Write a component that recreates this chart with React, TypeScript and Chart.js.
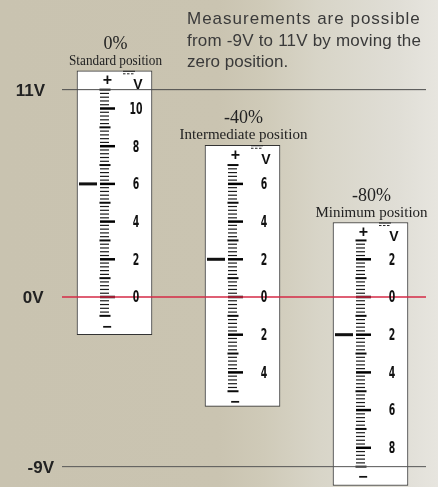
import React, { useEffect, useRef } from "react";
import { Chart, registerables } from "chart.js";

Chart.register(...registerables);

// ---------------- data ----------------
const LEVEL_VALUES = [11, 0, -9];
const LEVEL_LABELS = ["11V", "0V", "-9V"];
const POSITION_PERCENT = ["0%", "-40%", "-80%"];
const POSITION_NAME = ["Standard position", "Intermediate position", "Minimum position"];
const SCALE_MIN = [-1, -5, -9];
const SCALE_MAX = [11, 7, 3];
const BOX_MIN = [-2, -5.8, -10];
const BOX_MAX = [12, 8.05, 3.95];
const POINTER_VALUE = [6, 2, -2];
const SCALE_NUMBERS = [
  [10, 8, 6, 4, 2, 0],
  [6, 4, 2, 0, -2, -4],
  [2, 0, -2, -4, -6, -8],
];
const TICK_STEP = 0.2;
const NOTE_LINES = [
  "Measurements are possible",
  "from -9V to 11V by moving the",
  "zero position.",
];

// ---------------- layout ----------------
const W = 438;
const H = 487;
const Y_MIN = -10.08;
const Y_MAX = 15.756;
const BOX_LEFT = [77, 205, 333];
const BOX_WIDTH = 75;
const LINE_FROM = 62;
const LINE_TO = 426;
const LEVEL_LABEL_RIGHT = [45, 43.5, 54];
const LEVEL_COLORS = ["#4a4a4a", "#d42a46", "#555555"];
const LEVEL_WIDTHS = [1, 1.5, 1];
const NOTE_SPACING = [1, 0.2, 0];
const SANS = '"Liberation Sans", Arial, Helvetica, sans-serif';
const SERIF = '"Liberation Serif", "Times New Roman", serif';
const NARROW = '"Liberation Sans Narrow", "DejaVu Sans Condensed", "Arial Narrow", sans-serif';

type Kind = "minor" | "odd" | "major";
const TICK_STYLE: Record<Kind, { center: number; radius: number; width: number; color: string }> = {
  minor: { center: 27.5, radius: 4.5, width: 1.2, color: "#1a1a1a" },
  odd: { center: 28, radius: 5.5, width: 2, color: "#0a0a0a" },
  major: { center: 30.5, radius: 7.5, width: 2.5, color: "#000000" },
};

function tickPoints(kind: Kind) {
  const pts: { x: number; y: number }[] = [];
  for (let b = 0; b < SCALE_MIN.length; b++) {
    const n = Math.round((SCALE_MAX[b] - SCALE_MIN[b]) / TICK_STEP);
    for (let k = 0; k <= n; k++) {
      const v = Math.round((SCALE_MIN[b] + k * TICK_STEP) * 1000) / 1000;
      const isInt = Math.abs(v - Math.round(v)) < 1e-6;
      let kk: Kind = "minor";
      if (isInt) kk = Math.round(v) % 2 === 0 ? "major" : "odd";
      if (kk === kind) pts.push({ x: BOX_LEFT[b] + TICK_STYLE[kind].center, y: v });
    }
  }
  return pts;
}

const bgPlugin = {
  id: "bg",
  beforeDraw(chart: any) {
    const { ctx, width, height } = chart;
    const g = ctx.createLinearGradient(0, 0, width, 0);
    g.addColorStop(0, "#c9c3b0");
    g.addColorStop(0.5, "#cac4b1");
    g.addColorStop(0.6, "#cfcab8");
    g.addColorStop(0.73, "#d8d5c8");
    g.addColorStop(0.91, "#e0ded6");
    g.addColorStop(1, "#e7e5df");
    ctx.save();
    ctx.fillStyle = g;
    ctx.fillRect(0, 0, width, height);
    ctx.restore();
  },
};

const textPlugin = {
  id: "texts",
  afterDatasetsDraw(chart: any) {
    const { ctx } = chart;
    const x = chart.scales.x;
    const y = chart.scales.y;
    ctx.save();
    ctx.textBaseline = "alphabetic";

    // level labels
    ctx.font = `bold 17px ${SANS}`;
    ctx.fillStyle = "#222";
    ctx.textAlign = "right";
    LEVEL_LABELS.forEach((t, i) => {
      ctx.fillText(t, LEVEL_LABEL_RIGHT[i], y.getPixelForValue(LEVEL_VALUES[i]) + 6);
    });

    // note
    ctx.font = `17px ${SANS}`;
    ctx.fillStyle = "#3a3a3a";
    ctx.textAlign = "left";
    NOTE_LINES.forEach((t, i) => {
      (ctx as any).letterSpacing = `${NOTE_SPACING[i]}px`;
      ctx.fillText(t, 187, 24 + i * 21.5);
    });
    (ctx as any).letterSpacing = "0px";

    for (let b = 0; b < BOX_LEFT.length; b++) {
      const left = x.getPixelForValue(BOX_LEFT[b]);
      const cx = left + BOX_WIDTH / 2;
      const top = y.getPixelForValue(BOX_MAX[b]);

      ctx.fillStyle = "#222";
      ctx.textAlign = "center";
      ctx.font = `18px ${SERIF}`;
      ctx.fillText(POSITION_PERCENT[b], cx + 1, top - 22);
      ctx.font = `15px ${SERIF}`;
      ctx.fillText(POSITION_NAME[b], cx + 1, top - 6, b === 0 ? 93 : 200);

      ctx.fillStyle = "#111";
      ctx.font = `bold 16px ${SANS}`;
      ctx.fillText("+", left + 30.5, top + 14.3);
      ctx.font = `bold 14px ${SANS}`;
      ctx.fillText("V", left + 61, top + 18.7);
      ctx.font = `bold 16px ${SANS}`;
      ctx.fillText("\u2212", left + 30, y.getPixelForValue(SCALE_MIN[b] - 0.55) + 5.3);

      // DC symbol
      ctx.strokeStyle = "#222";
      ctx.lineWidth = 1;
      ctx.beginPath();
      ctx.moveTo(left + 46, top + 0.5);
      ctx.lineTo(left + 58, top + 0.5);
      ctx.stroke();
      ctx.setLineDash([2.5, 1.5]);
      ctx.beginPath();
      ctx.moveTo(left + 46, top + 3);
      ctx.lineTo(left + 58, top + 3);
      ctx.stroke();
      ctx.setLineDash([]);

      // scale numbers
      ctx.font = `bold 15px ${NARROW}`;
      ctx.fillStyle = "#111";
      SCALE_NUMBERS[b].forEach((n) => {
        const s = String(Math.abs(n));
        ctx.fillText(s, left + 59, y.getPixelForValue(n) + 5.4, s.length * 6.5);
      });
    }
    ctx.restore();
  },
};

export default function App() {
  const ref = useRef<HTMLCanvasElement | null>(null);

  useEffect(() => {
    if (!ref.current) return;
    const tickSets = (["minor", "odd", "major"] as Kind[]).map((k) => ({
      type: "scatter" as const,
      data: tickPoints(k),
      pointStyle: "line" as const,
      pointRadius: TICK_STYLE[k].radius,
      pointBorderWidth: TICK_STYLE[k].width,
      pointBorderColor: TICK_STYLE[k].color,
      pointBackgroundColor: TICK_STYLE[k].color,
      pointHoverRadius: TICK_STYLE[k].radius,
      order: 6,
    }));

    const levelSets = LEVEL_VALUES.map((v, i) => ({
      type: "line" as const,
      data: [
        { x: LINE_FROM, y: v },
        { x: LINE_TO, y: v },
      ],
      borderColor: LEVEL_COLORS[i],
      borderWidth: LEVEL_WIDTHS[i],
      pointRadius: 0,
      fill: false,
      order: 2,
    }));

    const chart = new Chart(ref.current, {
      type: "scatter",
      data: {
        datasets: [
          {
            type: "bar" as const,
            data: BOX_LEFT.map((l, b) => ({ x: l + BOX_WIDTH / 2, y: [BOX_MIN[b], BOX_MAX[b]] })) as any,
            backgroundColor: "#ffffff",
            borderColor: "#333333",
            borderWidth: 1,
            borderSkipped: false,
            barThickness: BOX_WIDTH,
            order: 10,
          },
          ...tickSets,
          {
            type: "scatter" as const,
            data: POINTER_VALUE.map((v, b) => ({ x: BOX_LEFT[b] + 11, y: v })),
            pointStyle: "line" as const,
            pointRadius: 9,
            pointBorderWidth: 3,
            pointBorderColor: "#111",
            order: 5,
          },
          ...levelSets,
        ] as any,
      },
      options: {
        animation: false,
        responsive: false,
        events: [],
        layout: { padding: 0, autoPadding: false },
        plugins: { legend: { display: false }, tooltip: { enabled: false } },
        scales: {
          x: { type: "linear", min: 0, max: W, display: false, offset: false },
          y: { type: "linear", min: Y_MIN, max: Y_MAX, display: false },
        },
      },
      plugins: [bgPlugin, textPlugin],
    });
    return () => chart.destroy();
  }, []);

  return (
    <div style={{ position: "absolute", left: 0, top: 0, width: W, height: H }}>
      <canvas ref={ref} width={W} height={H} style={{ display: "block" }} />
    </div>
  );
}
